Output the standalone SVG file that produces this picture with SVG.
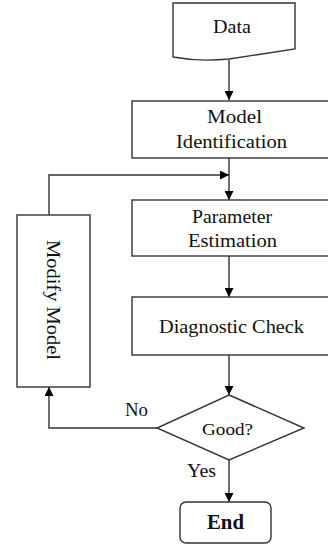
<svg xmlns="http://www.w3.org/2000/svg" width="328" height="545" viewBox="0 0 328 545">
<defs>
<marker id="ah" viewBox="0 0 10 10" refX="10" refY="5" markerWidth="9" markerHeight="9" markerUnits="userSpaceOnUse" orient="auto">
<path d="M0,0 L10,5 L0,10 Z" fill="#000"/>
</marker>
<style>
.s{fill:#fff;stroke:#333;stroke-width:1.4}
.c{fill:none;stroke:#333;stroke-width:1.4}
.t{font-size:19.5px;fill:#111}
.l{font-size:18.5px;fill:#111}
</style>
</defs>
<rect width="328" height="545" fill="#fff"/>
<g id="connectors">
<line class="c" x1="229" y1="60" x2="229" y2="100" marker-end="url(#ah)"/>
<line class="c" x1="229" y1="158" x2="229" y2="200" marker-end="url(#ah)"/>
<polyline class="c" points="49,215 49,175 229,175" marker-end="url(#ah)"/>
<line class="c" x1="229" y1="256" x2="229" y2="297" marker-end="url(#ah)"/>
<line class="c" x1="229" y1="355" x2="229" y2="395" marker-end="url(#ah)"/>
<polyline class="c" points="157,428 49,428 49,387" marker-end="url(#ah)"/>
<line class="c" x1="229" y1="460" x2="229" y2="502" marker-end="url(#ah)"/>
</g>
<g font-family="'Liberation Serif', 'DejaVu Serif', serif">
<g id="data">
<path class="s" d="M173,3 H295 V49 Q262,54 229,59 Q200,62 173,57 Z"/>
<text class="t" x="213" y="33" textLength="38" lengthAdjust="spacingAndGlyphs">Data</text>
</g>
<g id="model-identification">
<rect class="s" x="132" y="101" width="204" height="57"/>
<text class="t" x="207" y="123" textLength="55" lengthAdjust="spacingAndGlyphs">Model</text>
<text class="t" x="176" y="148" textLength="111" lengthAdjust="spacingAndGlyphs">Identification</text>
</g>
<g id="parameter-estimation">
<rect class="s" x="132" y="200" width="204" height="56"/>
<text class="t" x="192" y="223" textLength="80" lengthAdjust="spacingAndGlyphs">Parameter</text>
<text class="t" x="188" y="247" textLength="89" lengthAdjust="spacingAndGlyphs">Estimation</text>
</g>
<g id="diagnostic-check">
<rect class="s" x="132" y="297" width="204" height="58"/>
<text class="t" x="159" y="333" textLength="145" lengthAdjust="spacingAndGlyphs">Diagnostic Check</text>
</g>
<g id="modify-model">
<rect class="s" x="17" y="215" width="73" height="172"/>
<text class="t" x="0" y="0" transform="translate(47,240) rotate(90)" textLength="120" lengthAdjust="spacingAndGlyphs">Modify Model</text>
</g>
<g id="good">
<polygon class="s" points="229,395 304,428 229,460 157,428"/>
<text class="t" x="202" y="435" style="font-size:17px" textLength="51" lengthAdjust="spacingAndGlyphs">Good?</text>
</g>
<g id="end">
<rect class="s" x="180" y="502" width="91" height="41" rx="6"/>
<text class="t" x="207" y="529" style="font-weight:bold;font-size:20px" textLength="37" lengthAdjust="spacingAndGlyphs">End</text>
</g>
<g id="labels">
<text class="l" x="125" y="416" textLength="23" lengthAdjust="spacingAndGlyphs">No</text>
<text class="l" x="187" y="477" textLength="29" lengthAdjust="spacingAndGlyphs">Yes</text>
</g>
</g>
</svg>
